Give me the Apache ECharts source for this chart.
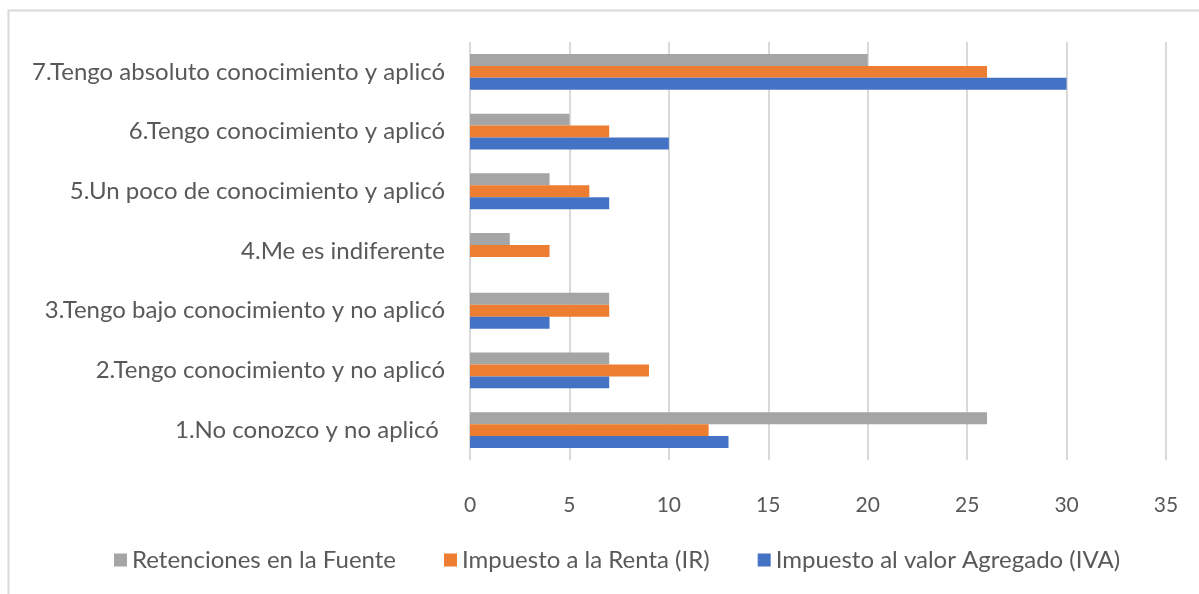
<!DOCTYPE html>
<html>
<head>
<meta charset="utf-8">
<script src="https://cdn.jsdelivr.net/npm/echarts@6/dist/echarts.min.js"></script>
<style>
  html, body { margin: 0; padding: 0; background: #fff; }
  #main { width: 1199px; height: 594px; }
</style>
</head>
<body>
<div id="main"></div>
<script>
// categorias de abajo hacia arriba
var categorias = [
    '1.No conozco y no aplicó ',
    '2.Tengo conocimiento y no aplicó',
    '3.Tengo bajo conocimiento y no aplicó',
    '4.Me es indiferente',
    '5.Un poco de conocimiento y aplicó',
    '6.Tengo conocimiento y aplicó',
    '7.Tengo absoluto conocimiento y aplicó'
];
var iva = [13, 7, 4, 0, 7, 10, 30];
var renta = [12, 9, 7, 4, 6, 7, 26];
var retenciones = [26, 7, 7, 2, 4, 5, 20];
var ticksX = [0, 5, 10, 15, 20, 25, 30, 35];

var fuente = 'Lato, "Open Sans", sans-serif';
var myChart = echarts.init(document.getElementById('main'));

var option = {
    backgroundColor: '#fff',
    animation: false,
    textStyle: { fontFamily: fuente },
    graphic: [{
        type: 'rect',
        shape: { x: 8.5, y: 10.5, width: 1300, height: 700 },
        style: { fill: 'none', stroke: '#d9d9d9', lineWidth: 2 },
        silent: true
    }],
    grid: { left: 470, right: 33, top: 42, bottom: 134, containLabel: false },
    legend: {
        data: ['Retenciones en la Fuente', 'Impuesto a la Renta (IR)', 'Impuesto al valor Agregado (IVA)'],
        top: 543,
        left: 109,
        icon: 'rect',
        itemWidth: 13,
        itemHeight: 13,
        itemGap: 48,
        textStyle: { fontSize: 24, color: '#595959', fontFamily: fuente }
    },
    xAxis: {
        type: 'value',
        min: ticksX[0],
        max: ticksX[ticksX.length - 1],
        interval: 5,
        axisLine: { show: false },
        axisTick: { show: false },
        axisLabel: { fontSize: 21, color: '#595959', margin: 35, fontFamily: fuente },
        splitLine: { lineStyle: { color: '#d9d9d9', width: 2 } }
    },
    yAxis: {
        type: 'category',
        data: categorias,
        axisLine: { show: false },
        axisTick: { show: false },
        axisLabel: { fontSize: 24, color: '#595959', margin: 25, fontFamily: fuente }
    },
    // en ECharts la primera serie queda arriba dentro de cada categoria
    series: [
        { name: 'Retenciones en la Fuente', type: 'bar', data: retenciones, itemStyle: { color: '#a5a5a5' }, barGap: '0%', barCategoryGap: '40%' },
        { name: 'Impuesto a la Renta (IR)', type: 'bar', data: renta, itemStyle: { color: '#ed7d31' }, barGap: '0%', barCategoryGap: '40%' },
        { name: 'Impuesto al valor Agregado (IVA)', type: 'bar', data: iva, itemStyle: { color: '#4472c4' }, barGap: '0%', barCategoryGap: '40%' }
    ]
};
myChart.setOption(option);
window.addEventListener('resize', function () {
    myChart.resize();
});
</script>
</body>
</html>
